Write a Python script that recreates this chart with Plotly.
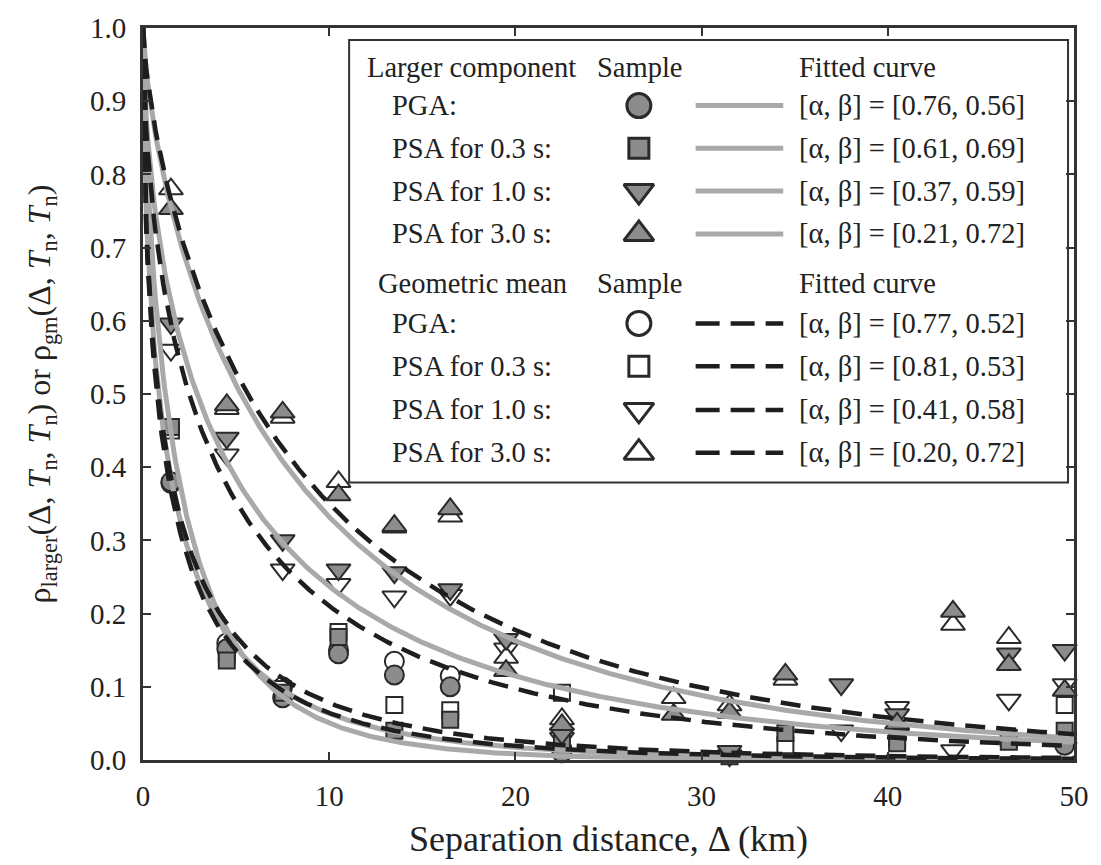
import numpy as np
import plotly.graph_objects as go

# ---------------- data ----------------
dist = [1.5, 4.5, 7.5, 10.5, 13.5, 16.5, 19.5, 22.5, 28.5, 31.5, 34.5, 37.5, 40.5, 43.5, 46.5, 49.5]

larger_pga = [0.380, 0.152, 0.085, 0.145, 0.116, 0.100, None, 0.010, None, None, None, None, None, None, None, 0.020]
larger_t03 = [0.455, 0.136, 0.092, 0.168, 0.040, 0.055, None, 0.025, None, 0.005, 0.037, None, 0.023, None, 0.025, 0.040]
larger_t10 = [0.596, 0.440, 0.300, 0.260, 0.256, 0.233, 0.165, 0.036, None, 0.012, None, 0.103, 0.062, None, 0.145, 0.150]
larger_t30 = [0.753, 0.485, 0.475, 0.362, 0.320, 0.343, 0.122, 0.048, 0.062, 0.065, 0.117, None, 0.050, 0.203, 0.130, 0.095]

gm_pga = [0.378, 0.160, 0.100, 0.150, 0.135, 0.115, None, 0.015, None, None, None, None, None, None, None, 0.025]
gm_t03 = [0.450, 0.145, 0.097, 0.175, 0.075, 0.068, None, 0.092, None, None, 0.020, None, 0.030, None, 0.030, 0.075]
gm_t10 = [0.560, 0.417, 0.260, 0.240, 0.223, 0.225, 0.152, 0.030, None, 0.006, None, 0.040, 0.072, 0.013, 0.082, 0.103]
gm_t30 = [0.780, 0.480, 0.468, 0.380, 0.318, 0.333, 0.140, 0.056, 0.085, 0.075, 0.110, None, 0.048, 0.185, 0.167, 0.030]

# fitted-curve parameters [alpha, beta] (from the legend)
larger_alpha = [0.76, 0.61, 0.37, 0.21]
larger_beta = [0.56, 0.69, 0.59, 0.72]
gm_alpha = [0.77, 0.81, 0.41, 0.20]
gm_beta = [0.52, 0.53, 0.58, 0.72]

row_labels = ["PGA:", "PSA for 0.3 s:", "PSA for 1.0 s:", "PSA for 3.0 s:"]
x_ticks = [0, 10, 20, 30, 40, 50]
y_ticks = [0.0, 0.1, 0.2, 0.3, 0.4, 0.5, 0.6, 0.7, 0.8, 0.9, 1.0]

# ---------------- styles ----------------
FONT = "Liberation Serif"
GRAY_FILL = "#8c8c8c"
EDGE = "#2a2a2a"
CURVE_GRAY = "#a9a9a9"
DASH_COL = "#1e1e1e"
symbols = ["circle", "square", "triangle-down", "triangle-up"]
sizes = [19, 16, 21, 21]
leg_sizes = [24, 20, 26, 26]

W, H = 1101, 865
L, R, T, B = 143, 1078, 26, 762   # plot area in pixels

fig = go.Figure()

larger_vals = [larger_pga, larger_t03, larger_t10, larger_t30]
gm_vals = [gm_pga, gm_t03, gm_t10, gm_t30]

# sample points
for k in range(4):
    fig.add_trace(go.Scatter(
        x=dist, y=gm_vals[k], mode="markers", showlegend=False,
        marker=dict(symbol=symbols[k], size=sizes[k], color="white",
                    line=dict(color=EDGE, width=2)),
        cliponaxis=False))
for k in range(4):
    fig.add_trace(go.Scatter(
        x=dist, y=larger_vals[k], mode="markers", showlegend=False,
        marker=dict(symbol=symbols[k], size=sizes[k], color=GRAY_FILL,
                    line=dict(color=EDGE, width=2)),
        cliponaxis=False))

# fitted curves rho = exp(-alpha * d^beta)
d = np.linspace(0, 50, 601)
for a, b in zip(larger_alpha, larger_beta):
    fig.add_trace(go.Scatter(x=d, y=np.exp(-a * d ** b), mode="lines", showlegend=False,
                             line=dict(color=CURVE_GRAY, width=5)))
for a, b in zip(gm_alpha, gm_beta):
    fig.add_trace(go.Scatter(x=d, y=np.exp(-a * d ** b), mode="lines", showlegend=False,
                             line=dict(color=DASH_COL, width=4.5, dash="20px,11px")))

# ---------------- custom legend (pixel-unit overlay axes) ----------------
box = dict(x0=350, x1=1072, y0=38, y1=483)
hdr_y = [66, 283]
row_y = [[104, 147, 190, 233], [323, 366, 410, 453]]
hdr_x = [366, 377]
col_label_x = 391
col_sample_x = 597
col_marker_x = 641
col_line = (698, 786)
col_text_x = 800

fig.add_shape(type="rect", xref="x2", yref="y2", layer="below",
              x0=box["x0"], x1=box["x1"], y0=box["y0"], y1=box["y1"],
              line=dict(color="#333333", width=2), fillcolor="white")

headers = ["Larger component", "Geometric mean"]
alphas = [larger_alpha, gm_alpha]
betas = [larger_beta, gm_beta]
anns = []
for g in range(2):
    anns.append(dict(x=hdr_x[g], y=hdr_y[g], text=headers[g]))
    anns.append(dict(x=col_sample_x, y=hdr_y[g], text="Sample"))
    anns.append(dict(x=col_text_x, y=hdr_y[g], text="Fitted curve"))
    for k in range(4):
        yy = row_y[g][k]
        anns.append(dict(x=col_label_x, y=yy, text=row_labels[k]))
        anns.append(dict(x=col_text_x, y=yy,
                         text="[α, β] = [%.2f, %.2f]" % (alphas[g][k], betas[g][k])))
        fig.add_trace(go.Scatter(
            x=[col_marker_x], y=[yy], xaxis="x2", yaxis="y2", mode="markers",
            showlegend=False, hoverinfo="skip",
            marker=dict(symbol=symbols[k], size=leg_sizes[k],
                        color=GRAY_FILL if g == 0 else "white",
                        line=dict(color=EDGE, width=3))))
        if g == 0:
            fig.add_shape(type="line", xref="x2", yref="y2", x0=col_line[0], x1=col_line[1],
                          y0=yy, y1=yy, line=dict(color=CURVE_GRAY, width=5))
        else:
            fig.add_shape(type="line", xref="x2", yref="y2", x0=col_line[0], x1=col_line[1],
                          y0=yy, y1=yy, line=dict(color=DASH_COL, width=4.5, dash="24px,11px"))

for a in anns:
    a.update(xref="x2", yref="y2", xanchor="left", yanchor="middle", showarrow=False,
             font=dict(family=FONT, size=28.5, color="#222222"))
fig.update_layout(annotations=anns)

ytitle = ("ρ<sub>larger</sub>(Δ, <i>T</i><sub>n</sub>, <i>T</i><sub>n</sub>) or "
          "ρ<sub>gm</sub>(Δ, <i>T</i><sub>n</sub>, <i>T</i><sub>n</sub>)")

axis_common = dict(showgrid=False, zeroline=False, showline=True, linecolor="#333333",
                   linewidth=3, mirror="ticks", ticks="inside", ticklen=8, tickwidth=1.5,
                   tickcolor="#333333", tickfont=dict(family=FONT, size=29, color="#222222"))

fig.update_layout(
    width=W, height=H,
    margin=dict(l=L, r=W - R, t=T, b=H - B, pad=0),
    paper_bgcolor="white", plot_bgcolor="white",
    xaxis=dict(range=[0, 50], tickvals=x_ticks, ticklabelstandoff=8,
               title=dict(text="Separation distance, Δ (km)",
                          font=dict(family=FONT, size=36, color="#222222"), standoff=16),
               **axis_common),
    yaxis=dict(range=[0, 1.0], tickvals=y_ticks, tickformat=".1f", ticklabelstandoff=8,
               title=dict(text=ytitle, font=dict(family=FONT, size=32, color="#222222"),
                          standoff=30),
               **axis_common),
    xaxis2=dict(range=[L, R], overlaying="x", visible=False, fixedrange=True),
    yaxis2=dict(range=[B, T], overlaying="y", visible=False, fixedrange=True),
    showlegend=False,
)

fig.write_html("out.html")
